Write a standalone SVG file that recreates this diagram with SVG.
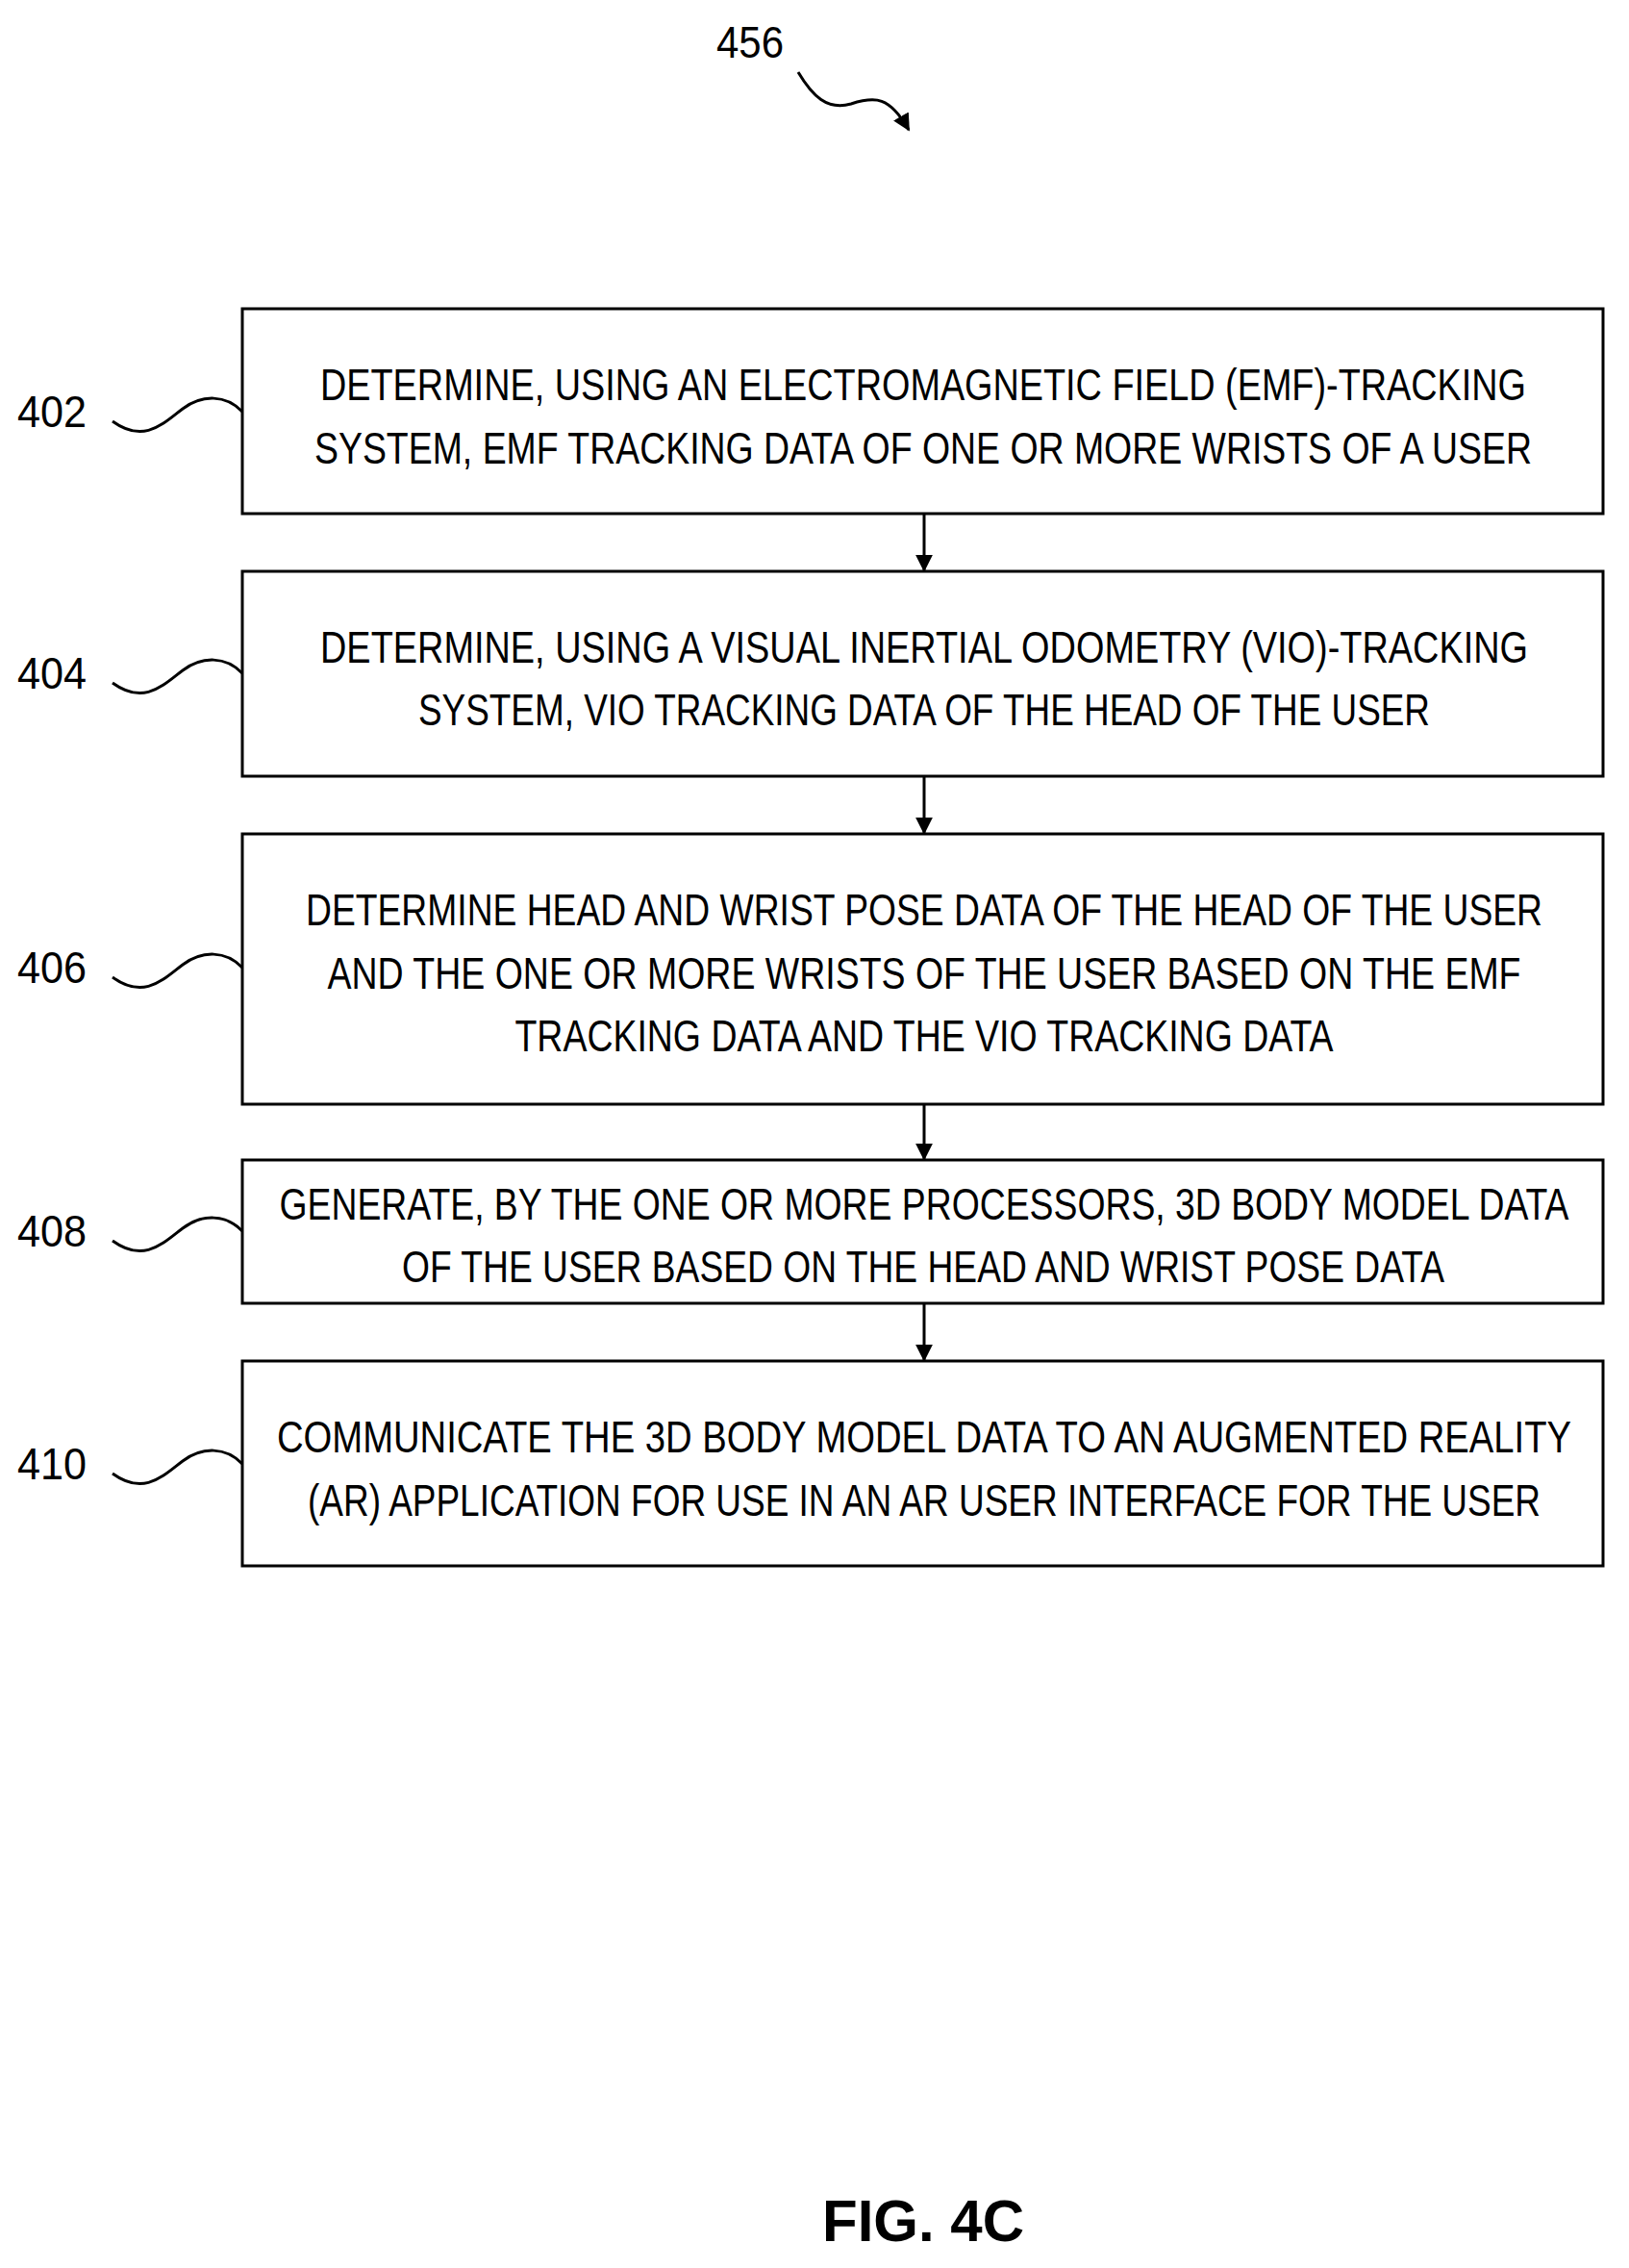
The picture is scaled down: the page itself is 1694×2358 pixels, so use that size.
<svg xmlns="http://www.w3.org/2000/svg" width="1694" height="2358" viewBox="0 0 1694 2358">
<style>
.box{fill:#fff;stroke:#000;stroke-width:3}
.t{font-family:"Liberation Sans Narrow","Liberation Sans",sans-serif;font-size:46px;text-anchor:middle;fill:#000}
.l{font-family:"Liberation Sans Narrow","Liberation Sans",sans-serif;font-size:46px;fill:#000}
.w{fill:none;stroke:#000;stroke-width:3}
</style>
<defs><marker id="a" viewBox="0 0 10 10" refX="9" refY="5" markerWidth="8" markerHeight="8" markerUnits="userSpaceOnUse" orient="auto"><path d="M0,0L10,5L0,10z"/></marker>
<marker id="b" viewBox="0 0 10 10" refX="9" refY="5" markerWidth="18" markerHeight="18" markerUnits="userSpaceOnUse" orient="auto"><path d="M0,0L10,5L0,10z"/></marker></defs>
<rect width="1694" height="2358" fill="#fff"/>
<text class="l" x="745" y="60" textLength="70" lengthAdjust="spacingAndGlyphs">456</text>
<path class="w" d="M830,75 C845,100 860,115 885,108 C910,100 925,100 945,135" marker-end="url(#b)"/>
<g id="n402"><rect class="box" x="252" y="321" width="1415" height="213"/>
<text class="t" x="960" y="416" textLength="1254" lengthAdjust="spacingAndGlyphs">DETERMINE, USING AN ELECTROMAGNETIC FIELD (EMF)-TRACKING</text>
<text class="t" x="960" y="482" textLength="1266" lengthAdjust="spacingAndGlyphs">SYSTEM, EMF TRACKING DATA OF ONE OR MORE WRISTS OF A USER</text>
<text class="l" x="18" y="444" textLength="72" lengthAdjust="spacingAndGlyphs">402</text>
<path class="w" d="M117,438 C150,462 170,440 190,425 C210,410 235,410 252,428"/></g>
<g id="n404"><rect class="box" x="252" y="594" width="1415" height="213"/>
<text class="t" x="961" y="689" textLength="1256" lengthAdjust="spacingAndGlyphs">DETERMINE, USING A VISUAL INERTIAL ODOMETRY (VIO)-TRACKING</text>
<text class="t" x="961" y="754" textLength="1052" lengthAdjust="spacingAndGlyphs">SYSTEM, VIO TRACKING DATA OF THE HEAD OF THE USER</text>
<text class="l" x="18" y="716" textLength="72" lengthAdjust="spacingAndGlyphs">404</text>
<path class="w" d="M117,710 C150,734 170,712 190,697 C210,682 235,682 252,700"/></g>
<g id="n406"><rect class="box" x="252" y="867" width="1415" height="281"/>
<text class="t" x="961" y="962" textLength="1286" lengthAdjust="spacingAndGlyphs">DETERMINE HEAD AND WRIST POSE DATA OF THE HEAD OF THE USER</text>
<text class="t" x="961" y="1028" textLength="1241" lengthAdjust="spacingAndGlyphs">AND THE ONE OR MORE WRISTS OF THE USER BASED ON THE EMF</text>
<text class="t" x="961" y="1093" textLength="851" lengthAdjust="spacingAndGlyphs">TRACKING DATA AND THE VIO TRACKING DATA</text>
<text class="l" x="18" y="1022" textLength="72" lengthAdjust="spacingAndGlyphs">406</text>
<path class="w" d="M117,1016 C150,1040 170,1018 190,1003 C210,988 235,988 252,1006"/></g>
<g id="n408"><rect class="box" x="252" y="1206" width="1415" height="149"/>
<text class="t" x="961" y="1268" textLength="1341" lengthAdjust="spacingAndGlyphs">GENERATE, BY THE ONE OR MORE PROCESSORS, 3D BODY MODEL DATA</text>
<text class="t" x="960" y="1333" textLength="1084" lengthAdjust="spacingAndGlyphs">OF THE USER BASED ON THE HEAD AND WRIST POSE DATA</text>
<text class="l" x="18" y="1296" textLength="72" lengthAdjust="spacingAndGlyphs">408</text>
<path class="w" d="M117,1290 C150,1314 170,1292 190,1277 C210,1262 235,1262 252,1280"/></g>
<g id="n410"><rect class="box" x="252" y="1415" width="1415" height="213"/>
<text class="t" x="961" y="1510" textLength="1346" lengthAdjust="spacingAndGlyphs">COMMUNICATE THE 3D BODY MODEL DATA TO AN AUGMENTED REALITY</text>
<text class="t" x="961" y="1576" textLength="1282" lengthAdjust="spacingAndGlyphs">(AR) APPLICATION FOR USE IN AN AR USER INTERFACE FOR THE USER</text>
<text class="l" x="18" y="1538" textLength="72" lengthAdjust="spacingAndGlyphs">410</text>
<path class="w" d="M117,1532 C150,1556 170,1534 190,1519 C210,1504 235,1504 252,1522"/></g>
<g id="connectors" stroke="#000" stroke-width="3" marker-end="url(#b)">
<line x1="961" y1="534" x2="961" y2="593"/>
<line x1="961" y1="807" x2="961" y2="866"/>
<line x1="961" y1="1148" x2="961" y2="1205"/>
<line x1="961" y1="1355" x2="961" y2="1414"/>
</g>
<text x="960" y="2330" style="font-family:'Liberation Sans',sans-serif;font-weight:bold;font-size:62px;text-anchor:middle" textLength="210" lengthAdjust="spacingAndGlyphs">FIG. 4C</text>
</svg>
